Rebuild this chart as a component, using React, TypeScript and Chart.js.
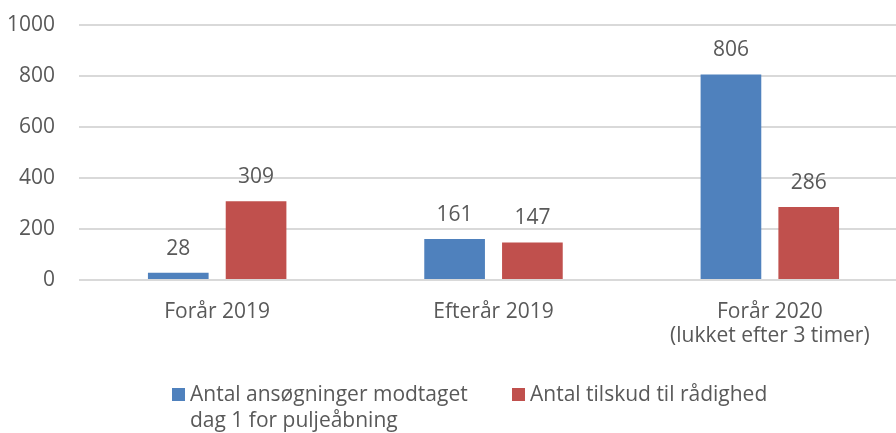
import React, { useEffect, useRef } from "react";
import { Chart, registerables } from "chart.js";

Chart.register(...registerables);

const categories: string[][] = [
  ["Forår 2019"],
  ["Efterår 2019"],
  ["Forår 2020", "(lukket efter 3 timer)"],
];
const seriesNames: string[][] = [
  ["Antal ansøgninger modtaget", "dag 1 for puljeåbning"],
  ["Antal tilskud til rådighed"],
];
const applications: number[] = [28, 161, 806];
const grants: number[] = [309, 147, 286];
const yMax = 1000;
const yStep = 200;

const BLUE = "#4F81BD";
const RED = "#C0504D";
const TEXT = "#595959";
const GRID = "#D9D9D9";
const FONT = "'Open Sans', sans-serif";
const FS = 21;

const valueLabels = {
  id: "valueLabels",
  afterDatasetsDraw(chart: any) {
    const ctx = chart.ctx;
    ctx.save();
    ctx.font = `${FS}px ${FONT}`;
    ctx.fillStyle = TEXT;
    ctx.textAlign = "center";
    ctx.textBaseline = "middle";
    chart.data.datasets.forEach((ds: any, i: number) => {
      const meta = chart.getDatasetMeta(i);
      meta.data.forEach((bar: any, j: number) => {
        ctx.fillText(String(ds.data[j]), bar.x, bar.y - 24);
      });
    });
    ctx.restore();
  },
};

const bottomLegend = {
  id: "bottomLegend",
  afterDraw(chart: any) {
    const ctx = chart.ctx;
    ctx.save();
    ctx.font = `${FS}px ${FONT}`;
    ctx.textBaseline = "middle";
    const starts = [172, 512];
    const top = 388;
    const box = 13;
    const lineH = 26;
    chart.data.datasets.forEach((ds: any, i: number) => {
      const x = starts[i];
      ctx.fillStyle = ds.backgroundColor;
      ctx.fillRect(x, top, box, box);
      ctx.fillStyle = TEXT;
      const lines: string[] = Array.isArray(ds.label) ? ds.label : [ds.label];
      lines.forEach((ln, k) => {
        ctx.fillText(ln, x + 18, top + 7 + k * lineH);
      });
    });
    ctx.restore();
  },
};

export default function App() {
  const ref = useRef<HTMLCanvasElement>(null);
  useEffect(() => {
    if (!ref.current) return;
    const chart = new Chart(ref.current, {
      type: "bar",
      data: {
        labels: categories as any,
        datasets: [
          {
            label: seriesNames[0] as any,
            data: applications,
            backgroundColor: BLUE,
            categoryPercentage: 0.563,
            barPercentage: 0.78,
          },
          {
            label: seriesNames[1] as any,
            data: grants,
            backgroundColor: RED,
            categoryPercentage: 0.563,
            barPercentage: 0.78,
          },
        ],
      },
      options: {
        responsive: false,
        animation: false,
        layout: { padding: { top: 0, right: 4, bottom: 73, left: 0 } },
        plugins: {
          legend: { display: false },
          tooltip: { enabled: false },
        },
        scales: {
          x: {
            grid: { display: false, drawTicks: false },
            border: { display: false },
            ticks: {
              color: TEXT,
              font: { family: FONT, size: FS, lineHeight: 1.15 },
              padding: 20,
              maxRotation: 0,
              autoSkip: false,
            },
            afterFit(scale: any) {
              scale.height = 80;
            },
          },
          y: {
            min: 0,
            max: yMax,
            grid: { color: GRID, lineWidth: 2, drawTicks: false },
            border: { display: false },
            ticks: {
              stepSize: yStep,
              color: TEXT,
              font: { family: FONT, size: FS },
              padding: 24,
              callback: (v: any) => String(v),
            },
            afterFit(scale: any) {
              scale.width = 79;
              scale.paddingTop = 25;
              scale.paddingBottom = 12;
            },
          },
        },
      },
      plugins: [valueLabels, bottomLegend],
    });
    return () => chart.destroy();
  }, []);
  return (
    <div
      style={{
        position: "fixed",
        left: 0,
        top: 0,
        width: 896,
        height: 433,
        overflow: "hidden",
        background: "#fff",
      }}
    >
      <canvas ref={ref} width={912} height={433} style={{ width: 912, height: 433, display: "block" }} />
    </div>
  );
}
